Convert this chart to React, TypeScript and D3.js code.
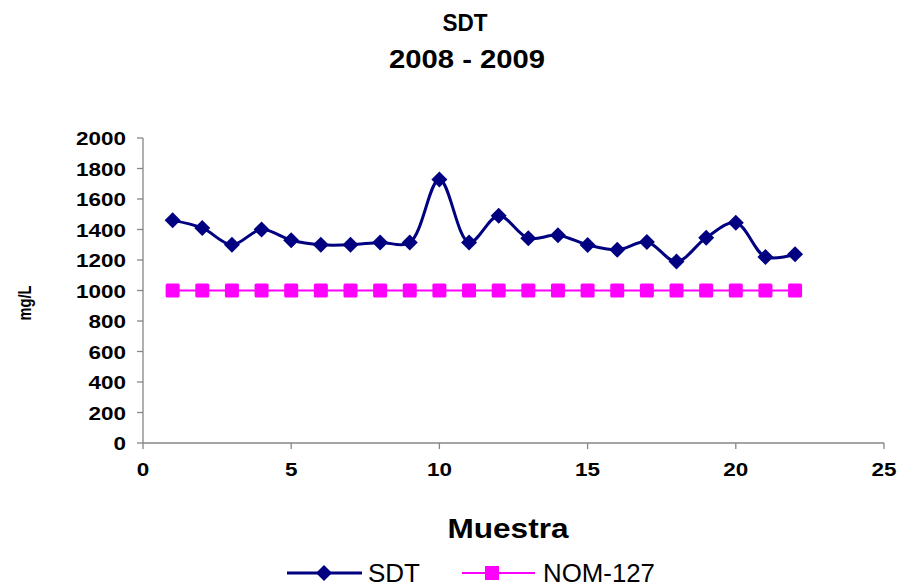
import * as d3 from "d3";

const samples = [1, 2, 3, 4, 5, 6, 7, 8, 9, 10, 11, 12, 13, 14, 15, 16, 17, 18, 19, 20, 21, 22];
const sdt = [1460, 1410, 1300, 1400, 1330, 1300, 1300, 1315, 1315, 1728, 1315, 1490, 1343, 1363, 1299, 1267, 1318, 1190, 1346, 1445, 1220, 1238];
const nom127 = samples.map(() => 1000);
const xTicks = [0, 5, 10, 15, 20, 25];
const yTicks = [0, 200, 400, 600, 800, 1000, 1200, 1400, 1600, 1800, 2000];

const W = 909;
const H = 588;
const font = "'Liberation Sans', Arial, sans-serif";
const navy = "#000080";
const magenta = "#FF00FF";
const axisGray = "#868686";

export default function App() {
  const x = d3.scaleLinear().domain([0, 25]).range([143, 884]);
  const y = d3.scaleLinear().domain([0, 2000]).range([443, 138]);

  const sdtLine = d3
    .line<number>()
    .x((_, i) => x(samples[i]))
    .y((d) => y(d))
    .curve(d3.curveCatmullRom.alpha(0.5));
  const nomLine = d3
    .line<number>()
    .x((_, i) => x(samples[i]))
    .y((d) => y(d));

  const diamond = (cx: number, cy: number, r: number) =>
    `M${cx},${cy - r}L${cx + r},${cy}L${cx},${cy + r}L${cx - r},${cy}Z`;

  // tick labels look condensed-tall in the original
  const tickLen = (t: number) => String(t).length * 12.5;

  return (
    <svg width={W} height={H} style={{ position: "absolute", left: 0, top: 0, background: "#fff" }} fontFamily={font}>
      {/* title */}
      <text x={465} y={31} textAnchor="middle" fontWeight="bold" fontSize={24} textLength={45} lengthAdjust="spacingAndGlyphs">SDT</text>
      <text x={467} y={68} textAnchor="middle" fontWeight="bold" fontSize={25} textLength={156} lengthAdjust="spacingAndGlyphs">2008 - 2009</text>

      {/* axes */}
      <line x1={x(0)} x2={x(0)} y1={y(2000)} y2={y(0)} stroke={axisGray} strokeWidth={1.3} />
      <line x1={x(0)} x2={x(25)} y1={y(0)} y2={y(0)} stroke={axisGray} strokeWidth={1.3} />
      {yTicks.map((t) => (
        <g key={`y${t}`}>
          <line x1={x(0) - 6} x2={x(0)} y1={y(t)} y2={y(t)} stroke={axisGray} strokeWidth={1.3} />
          <text x={126} y={y(t) + 7} textAnchor="end" fontWeight="bold" fontSize={19} textLength={tickLen(t)} lengthAdjust="spacingAndGlyphs">{t}</text>
        </g>
      ))}
      {xTicks.map((t) => (
        <g key={`x${t}`}>
          <line x1={x(t)} x2={x(t)} y1={y(0)} y2={y(0) + 6} stroke={axisGray} strokeWidth={1.3} />
          <text x={x(t)} y={476} textAnchor="middle" fontWeight="bold" fontSize={19} textLength={tickLen(t)} lengthAdjust="spacingAndGlyphs">{t}</text>
        </g>
      ))}

      {/* axis titles */}
      <text transform="translate(31,303) rotate(-90)" textAnchor="middle" fontWeight="bold" fontSize={18} textLength={35} lengthAdjust="spacingAndGlyphs">mg/L</text>
      <text x={508} y={538} textAnchor="middle" fontWeight="bold" fontSize={27} textLength={121} lengthAdjust="spacingAndGlyphs">Muestra</text>

      {/* NOM-127 series */}
      <path d={nomLine(nom127) ?? ""} fill="none" stroke={magenta} strokeWidth={2.2} />
      {nom127.map((v, i) => (
        <rect key={`n${i}`} x={x(samples[i]) - 7} y={y(v) - 7} width={14} height={14} rx={1.5} fill={magenta} />
      ))}

      {/* SDT series */}
      <path d={sdtLine(sdt) ?? ""} fill="none" stroke={navy} strokeWidth={3} />
      {sdt.map((v, i) => (
        <path key={`s${i}`} d={diamond(x(samples[i]), y(v), 8)} fill={navy} />
      ))}

      {/* legend */}
      <line x1={287} x2={362} y1={573} y2={573} stroke={navy} strokeWidth={3} />
      <path d={diamond(324, 573, 8)} fill={navy} />
      <text x={368} y={582} fontSize={25} textLength={52} lengthAdjust="spacingAndGlyphs">SDT</text>
      <line x1={462} x2={535} y1={573} y2={573} stroke={magenta} strokeWidth={2.2} />
      <rect x={492 - 7} y={573 - 7} width={14} height={14} fill={magenta} />
      <text x={543} y={582} fontSize={25} textLength={112} lengthAdjust="spacingAndGlyphs">NOM-127</text>
    </svg>
  );
}
